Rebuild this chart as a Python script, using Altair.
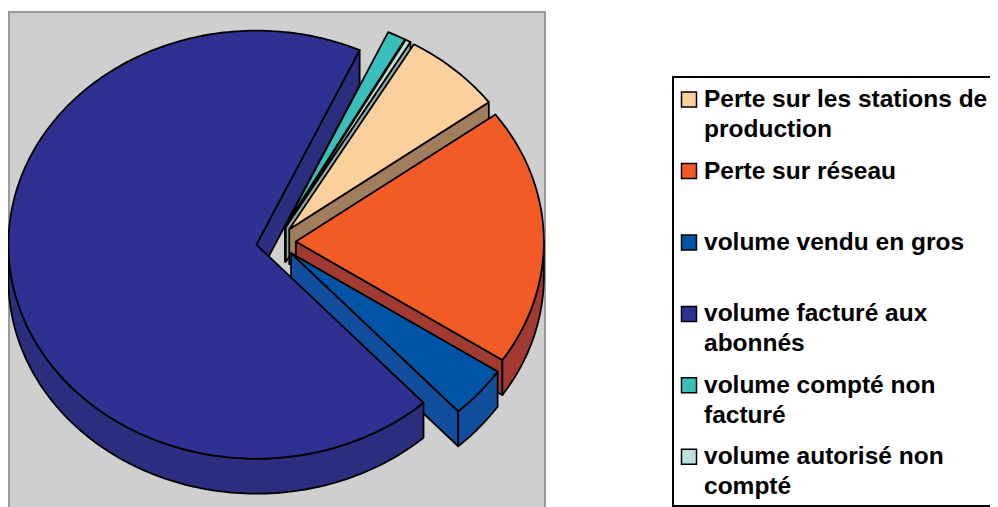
import math
import altair as alt

# Slices, clockwise from the start angle; shares in percent
slice_names = ["volume compté non facturé", "volume autorisé non compté", "Perte sur les stations de production",
               "Perte sur réseau", "volume vendu en gros", "volume facturé aux abonnés"]
slice_shares = [1.2, 0.35, 6.5, 19.45, 3.9, 68.6]
top_colors = ["#39bfba", "#c0dfdc", "#fbd09c", "#f25a26", "#0054a6", "#2e3192"]
wall_colors = ["#2d8f8c", "#8fa9a6", "#a07d5c", "#a23a32", "#114e9e", "#2b2e7f"]

# Legend
legend_labels = ["Perte sur les stations de\nproduction", "Perte sur réseau", "volume vendu en gros",
                 "volume facturé aux\nabonnés", "volume compté non\nfacturé", "volume autorisé non\ncompté"]
legend_colors = ["#fbd09c", "#f25a26", "#0054a6", "#2e3192", "#39bfba", "#c0dfdc"]

M = 8
START, CX, CY, RX, RY, EXPLODE, DEPTH = 24.6, 276.0, 242.0, 248.0, 214.0, 0.08, 35.0


def pt(cx, cy, deg, dy=0.0):
    t = math.radians(deg)
    return [cx + RX * math.sin(t), cy - RY * math.cos(t) + dy]


def arc(cx, cy, a, b, dy=0.0):
    n = max(2, int(abs(b - a)) + 1)
    return [pt(cx, cy, a + (b - a) * i / (n - 1), dy) for i in range(n)]


def feature(ring, fill):
    ring = ring + [ring[0]]
    return {"type": "Feature", "properties": {"fill": fill},
            "geometry": {"type": "Polygon", "coordinates": [ring]}}


features = []
angle = START
for share, top, wall in zip(slice_shares, top_colors, wall_colors):
    a, b = angle, angle + share * 3.6
    angle = b
    mid = math.radians((a + b) / 2)
    tx = CX + EXPLODE * RX * math.sin(mid)
    ty = CY - EXPLODE * RY * math.cos(mid)
    # visible radial wall, at the slice's closing edge
    e = pt(tx, ty, b)
    features.append(feature([[tx, ty], e, [e[0], e[1] + DEPTH], [tx, ty + DEPTH]], wall))
    # outer wall: the part of the rim facing the viewer
    for lo, hi in [(90, 270), (450, 630)]:
        s, f = max(a, lo), min(b, hi)
        if s < f:
            features.append(feature(arc(tx, ty, s, f) + arc(tx, ty, f, s, DEPTH), wall))
    features.append(feature([[tx, ty]] + arc(tx, ty, a, b), top))

pie = alt.Chart(alt.Data(values=features)).mark_geoshape(stroke="black", strokeWidth=1.8, strokeJoin="round").encode(
    fill=alt.Fill("properties.fill:N", scale=None)
).project(type="identity", scale=1, translate=[-M, -M])

one = alt.Data(values=[{"k": 0}])
panel = alt.Chart(one).mark_rect(fill="#cfcfcf", stroke="#9a9a9a", strokeWidth=2).encode(
    x=alt.value(9 - M), x2=alt.value(545 - M), y=alt.value(12 - M), y2=alt.value(520 - M))
box = alt.Chart(one).mark_rect(fill="white", stroke="black", strokeWidth=2).encode(
    x=alt.value(673 - M), x2=alt.value(1010 - M), y=alt.value(77 - M), y2=alt.value(506 - M))

legend_rows = [{"row": i, "label": l, "color": c} for i, (l, c) in enumerate(zip(legend_labels, legend_colors))]
row_y = alt.Y("row:Q", axis=None, scale=alt.Scale(domain=[0, 5], range=[99.6 - M, 456.8 - M]))
base = alt.Chart(alt.Data(values=legend_rows))
squares = base.mark_rect(stroke="black", strokeWidth=1.5, width=15, height=15).encode(
    x=alt.value(689 - M), y=row_y, fill=alt.Fill("color:N", scale=None))
labels = base.mark_text(align="left", baseline="alphabetic", dy=7.5, font="Liberation Sans", fontWeight="bold",
                        fontSize=24.5, lineBreak="\n", lineHeight=30, color="black").encode(
    x=alt.value(704 - M), y=row_y, text="label:N")

chart = alt.layer(panel, pie, box, squares, labels).properties(
    width=982, height=499, padding=0, autosize="none", background="white"
).configure_view(stroke=None)

chart.save("out.html", embed_options={"renderer": "svg", "actions": False})
